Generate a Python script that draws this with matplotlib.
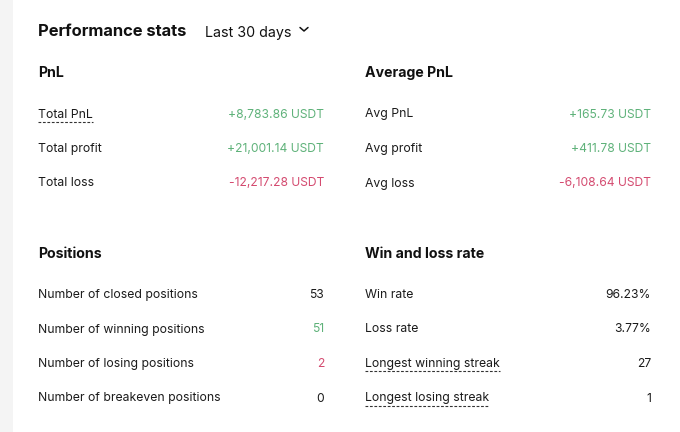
import matplotlib
matplotlib.use("Agg")
import matplotlib.pyplot as plt
from matplotlib.patches import Rectangle

# panel content
title = "Performance stats"
period = "Last 30 days"

pnl_labels = ["Total PnL", "Total profit", "Total loss"]
pnl_values = ["+8,783.86 USDT", "+21,001.14 USDT", "-12,217.28 USDT"]
pnl_kind = ["pos", "pos", "neg"]

avg_labels = ["Avg PnL", "Avg profit", "Avg loss"]
avg_values = ["+165.73 USDT", "+411.78 USDT", "-6,108.64 USDT"]
avg_kind = ["pos", "pos", "neg"]

pos_labels = ["Number of closed positions", "Number of winning positions",
              "Number of losing positions", "Number of breakeven positions"]
pos_values = ["53", "51", "2", "0"]
pos_kind = ["plain", "pos", "neg", "plain"]

rate_labels = ["Win rate", "Loss rate", "Longest winning streak", "Longest losing streak"]
rate_values = ["96.23%", "3.77%", "27", "1"]
rate_kind = ["plain", "plain", "plain", "plain"]

dashed = {"Total PnL", "Longest winning streak", "Longest losing streak"}

colors = {"plain": "#1b1b1b", "pos": "#5fb27a", "neg": "#d44b70"}
FONT = ["Inter", "DejaVu Sans"]

fig = plt.figure(figsize=(6.8, 4.32), dpi=100)
ax = fig.add_axes([0, 0, 1, 1])
ax.set_xlim(0, 680)
ax.set_ylim(432, 0)
ax.axis("off")

ax.add_patch(Rectangle((0, 0), 13, 432, color="#f4f4f4", lw=0))

ax.text(38, 36.5, title, fontsize=11.9, fontweight="bold", family=FONT,
        color="#111111", va="baseline")
ax.text(205, 36.5, period, fontsize=10.3, family=FONT, color="#111111", va="baseline")
ax.plot([300, 304, 308], [27.5, 31, 27.5], color="#111111", lw=1.1,
        solid_capstyle="round", solid_joinstyle="round")

underlines = []


def section(x_left, x_right, y_base, heading, labels, values, kinds):
    ax.text(x_left, y_base, heading, fontsize=10.2, fontweight="bold",
            family=FONT, color="#111111", va="baseline")
    for i, (lab, val, k) in enumerate(zip(labels, values, kinds)):
        y = y_base + 40.5 + i * 34.5
        t = ax.text(x_left, y, lab, fontsize=8.8, family=FONT,
                    color="#1b1b1b", va="baseline")
        ax.text(x_right, y, val, fontsize=8.7, family=FONT,
                color=colors[k], va="baseline", ha="right")
        if lab in dashed:
            underlines.append((t, y + 4))


section(38, 324, 77, "PnL", pnl_labels, pnl_values, pnl_kind)
section(365, 651, 77, "Average PnL", avg_labels, avg_values, avg_kind)
section(38, 324, 257.5, "Positions", pos_labels, pos_values, pos_kind)
section(365, 651, 257.5, "Win and loss rate", rate_labels, rate_values, rate_kind)

fig.canvas.draw()
renderer = fig.canvas.get_renderer()
inv = ax.transData.inverted()
for t, yl in underlines:
    bb = t.get_window_extent(renderer)
    x0 = inv.transform((bb.x0, bb.y0))[0]
    x1 = inv.transform((bb.x1, bb.y0))[0]
    ax.plot([x0, x1], [yl, yl], color="#333333", lw=0.8, ls=(0, (2.5, 1.5)))

fig.savefig("out.png", dpi=100, facecolor="white")
